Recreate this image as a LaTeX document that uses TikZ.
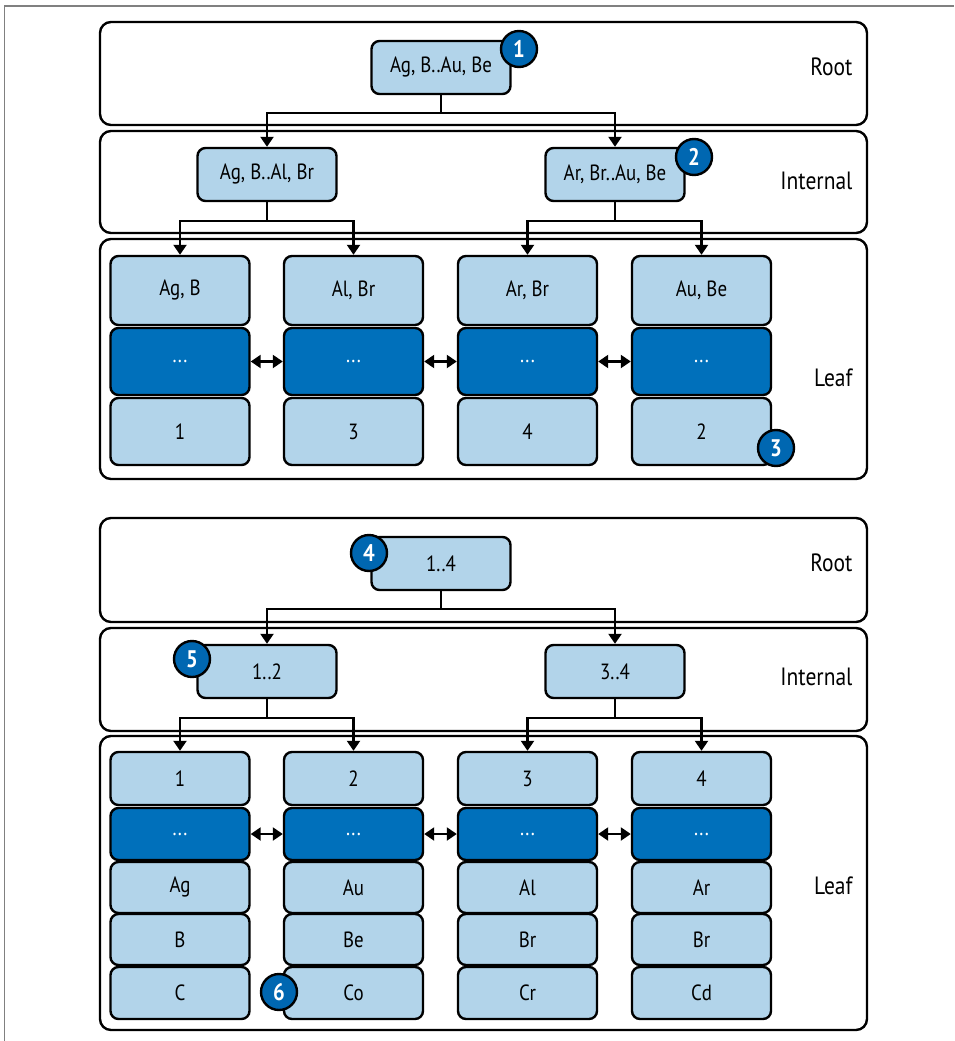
\documentclass[tikz,border=0pt]{standalone}
\usepackage{fontspec}
\setmainfont{PT Sans}[FakeStretch=0.86]
\usepackage{tikz}
\usetikzlibrary{arrows.meta}
\definecolor{keyblue}{HTML}{B2D4EA}
\definecolor{dotblue}{HTML}{0070BB}
\definecolor{markblue}{HTML}{0067B1}

\begin{document}
\begin{tikzpicture}[
		x=1pt, y=-1pt,
		band/.style={draw, line width=2.4pt, rounded corners=11pt},
		key/.style={draw, line width=2.4pt, rounded corners=8pt, fill=keyblue, inner sep=0pt,
			minimum width=139pt, minimum height=53pt, font=\fontsize{22}{23}\selectfont},
		dots/.style={key, fill=dotblue, text=white},
		badge/.style={circle, draw, line width=2.4pt, fill=markblue, text=white, inner sep=0pt,
			minimum size=36pt, font=\bfseries\fontsize{24}{25}\selectfont},
		tier/.style={anchor=east, font=\fontsize{25}{26}\selectfont},
		>={Triangle[length=10pt,width=13pt]},
		link/.style={->, line width=2.2pt},
		sib/.style={<->, line width=2.2pt}]
	\useasboundingbox (0,0) rectangle (954,1041);
	\draw[gray, line width=1.5pt] (4.5,1041) -- (4.5,6) -- (954,6);
	%% upper tree: keyed by name
	\draw[band] (100,22) rectangle (867,125);
	\draw[band] (100,131) rectangle (867,233);
	\draw[band] (100,239) rectangle (867,479);
	\node[tier] (rootlblA) at (856,67) {Root};
	\node[tier] (intlblA) at (856,181) {Internal};
	\node[tier] (leaflblA) at (856,378) {Leaf};
	\node[key] (rootA) at (441,67.5) {Ag, B..Au, Be};
	\node[key] (intA1) at (267,174.5) {Ag, B..Al, Br};
	\node[key] (intA2) at (615,174.5) {Ar, Br..Au, Be};
	\foreach \c/\x/\k/\v in {1/180/{Ag, B}/1, 2/353.5/{Al, Br}/3, 3/527.5/{Ar, Br}/4, 4/701.5/{Au, Be}/2} {
		\node[key, minimum height=69pt] (keyA\c) at (\x,290.5) {\k};
		\node[dots, minimum height=67pt] (dotA\c) at (\x,361.5) {...};
		\node[key, minimum height=67pt] (valA\c) at (\x,431.5) {\v};
	}
	\draw[link] (rootA.south) -- ++(0,18) -| (intA1.north);
	\draw[link] (rootA.south) -- ++(0,18) -| (intA2.north);
	\draw[link] (intA1.south) -- ++(0,19) -| (keyA1.north);
	\draw[link] (intA1.south) -- ++(0,19) -| (keyA2.north);
	\draw[link] (intA2.south) -- ++(0,19) -| (keyA3.north);
	\draw[link] (intA2.south) -- ++(0,19) -| (keyA4.north);
	\foreach \a/\b in {1/2, 2/3, 3/4}
		\draw[sib] (dotA\a.east) -- (dotA\b.west);
	\node[badge] (m1) at (519,49) {1};
	\node[badge] (m2) at (694,157) {2};
	\node[badge] (m3) at (776,448) {3};
	%% lower tree: keyed by row number
	\draw[band] (100,518) rectangle (867,622);
	\draw[band] (100,628) rectangle (867,731);
	\draw[band] (100,736) rectangle (867,1030);
	\node[tier] (rootlblB) at (856,563) {Root};
	\node[tier] (intlblB) at (856,677) {Internal};
	\node[tier] (leaflblB) at (856,886) {Leaf};
	\node[key] (rootB) at (441,563.5) {1..4};
	\node[key] (intB1) at (267,671.5) {1..2};
	\node[key] (intB2) at (615,671.5) {3..4};
	\foreach \c/\x/\p/\q/\r in {1/180/Ag/B/C, 2/353.5/Au/Be/Co, 3/527.5/Al/Br/Cr, 4/701.5/Ar/Br/Cd} {
		\node[key] (keyB\c) at (\x,778.5) {\c};
		\node[dots, minimum height=52pt] (dotB\c) at (\x,834) {...};
		\node[key, minimum height=51pt] (rowB\c a) at (\x,887.5) {\p};
		\node[key, minimum height=51pt] (rowB\c b) at (\x,939.5) {\q};
		\node[key, minimum height=52pt] (rowB\c c) at (\x,993) {\r};
	}
	\draw[link] (rootB.south) -- ++(0,18) -| (intB1.north);
	\draw[link] (rootB.south) -- ++(0,18) -| (intB2.north);
	\draw[link] (intB1.south) -- ++(0,19) -| (keyB1.north);
	\draw[link] (intB1.south) -- ++(0,19) -| (keyB2.north);
	\draw[link] (intB2.south) -- ++(0,19) -| (keyB3.north);
	\draw[link] (intB2.south) -- ++(0,19) -| (keyB4.north);
	\foreach \a/\b in {1/2, 2/3, 3/4}
		\draw[sib] (dotB\a.east) -- (dotB\b.west);
	\node[badge] (m4) at (369,553) {4};
	\node[badge] (m5) at (192,659) {5};
	\node[badge] (m6) at (279,992) {6};
\end{tikzpicture}
\end{document}
